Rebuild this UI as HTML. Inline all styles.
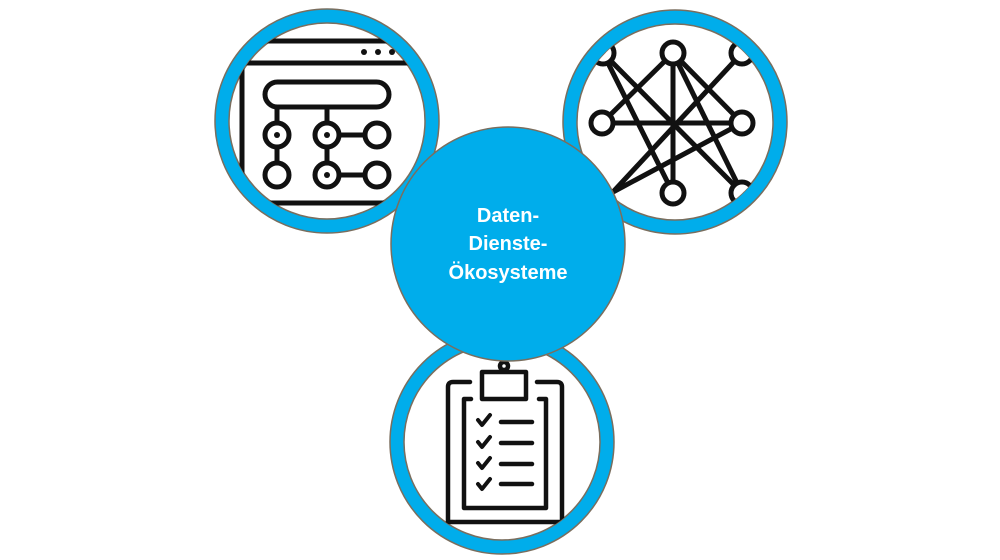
<!DOCTYPE html>
<html><head><style>
html,body{margin:0;padding:0;background:#fff;width:1000px;height:560px;overflow:hidden}
</style></head><body>
<svg width="1000" height="560" viewBox="0 0 1000 560" xmlns="http://www.w3.org/2000/svg">
<defs>
<clipPath id="c1"><circle cx="327" cy="121" r="98"/></clipPath>
<clipPath id="c2"><circle cx="675" cy="122" r="98"/></clipPath>
<clipPath id="c3"><circle cx="502" cy="442" r="98"/></clipPath>
</defs>
<g stroke="#7a6e5e" stroke-width="1.5">
<circle cx="327" cy="121" r="112" fill="#00adeb"/>
<circle cx="327" cy="121" r="98" fill="#fff"/>
<circle cx="675" cy="122" r="112" fill="#00adeb"/>
<circle cx="675" cy="122" r="98" fill="#fff"/>
<circle cx="502" cy="442" r="112" fill="#00adeb"/>
<circle cx="502" cy="442" r="98" fill="#fff"/>
</g>
<g clip-path="url(#c1)" fill="none" stroke="#111" stroke-width="5" stroke-linecap="round">
<rect x="242" y="41" width="190" height="162"/>
<line x1="242" y1="63" x2="432" y2="63"/>
<rect x="265" y="82" width="124" height="25" rx="12.5"/>
<line x1="277" y1="107" x2="277" y2="123"/><line x1="327" y1="107" x2="327" y2="123"/>
<line x1="277" y1="147" x2="277" y2="163"/><line x1="327" y1="147" x2="327" y2="163"/>
<line x1="339" y1="135" x2="365" y2="135"/><line x1="339" y1="175" x2="365" y2="175"/>
<circle cx="277" cy="135" r="12"/><circle cx="327" cy="135" r="12"/><circle cx="377" cy="135" r="12"/>
<circle cx="277" cy="175" r="12"/><circle cx="327" cy="175" r="12"/><circle cx="377" cy="175" r="12"/>
<g fill="#111" stroke="none"><circle cx="277" cy="135" r="3"/><circle cx="327" cy="135" r="3"/><circle cx="327" cy="175" r="3"/>
<circle cx="364" cy="52" r="3"/><circle cx="378" cy="52" r="3"/><circle cx="392" cy="52" r="3"/></g>
</g>
<g clip-path="url(#c2)" fill="none" stroke="#111" stroke-width="5">
<line x1="603" y1="53" x2="673" y2="193"/><line x1="603" y1="53" x2="742" y2="193"/>
<line x1="673" y1="53" x2="673" y2="193"/><line x1="673" y1="53" x2="602" y2="123"/>
<line x1="673" y1="53" x2="742" y2="193"/><line x1="673" y1="53" x2="742" y2="123"/>
<line x1="742" y1="53" x2="613" y2="192"/><line x1="602" y1="123" x2="742" y2="123"/>
<line x1="742" y1="123" x2="613" y2="192"/>
<g fill="#fff"><circle cx="603" cy="53" r="11"/><circle cx="673" cy="53" r="11"/><circle cx="742" cy="53" r="11"/>
<circle cx="602" cy="123" r="11"/><circle cx="742" cy="123" r="11"/>
<circle cx="673" cy="193" r="11"/><circle cx="742" cy="193" r="11"/></g>
</g>
<g clip-path="url(#c3)" fill="none" stroke="#111" stroke-width="4.5" stroke-linecap="round" stroke-linejoin="round">
<path d="M470 382 H453 Q448 382 448 387 V522 H562 V387 Q562 382 557 382 H537"/>
<path d="M471 399 H464 V508 H546 V399 H539"/>
<rect x="482" y="372" width="44" height="27"/>
<circle cx="504" cy="366" r="4"/>
<g stroke-width="4"><path d="M478 420 l4 5 l8 -10"/><path d="M478 442 l4 5 l8 -10"/><path d="M478 463 l4 5 l8 -10"/><path d="M478 484 l4 5 l8 -10"/></g>
<line x1="501" y1="422" x2="532" y2="422"/><line x1="501" y1="443" x2="532" y2="443"/>
<line x1="501" y1="464" x2="532" y2="464"/><line x1="501" y1="484" x2="532" y2="484"/>
</g>
<circle cx="508" cy="244" r="117" fill="#00adeb" stroke="#7a6e5e" stroke-width="1.5"/>
<g font-family="Liberation Sans, sans-serif" font-weight="bold" font-size="20" fill="#fff" text-anchor="middle">
<text x="508" y="222">Daten-</text>
<text x="508" y="250">Dienste-</text>
<text x="508" y="279">Ökosysteme</text>
</g>
</svg>
</body></html>
